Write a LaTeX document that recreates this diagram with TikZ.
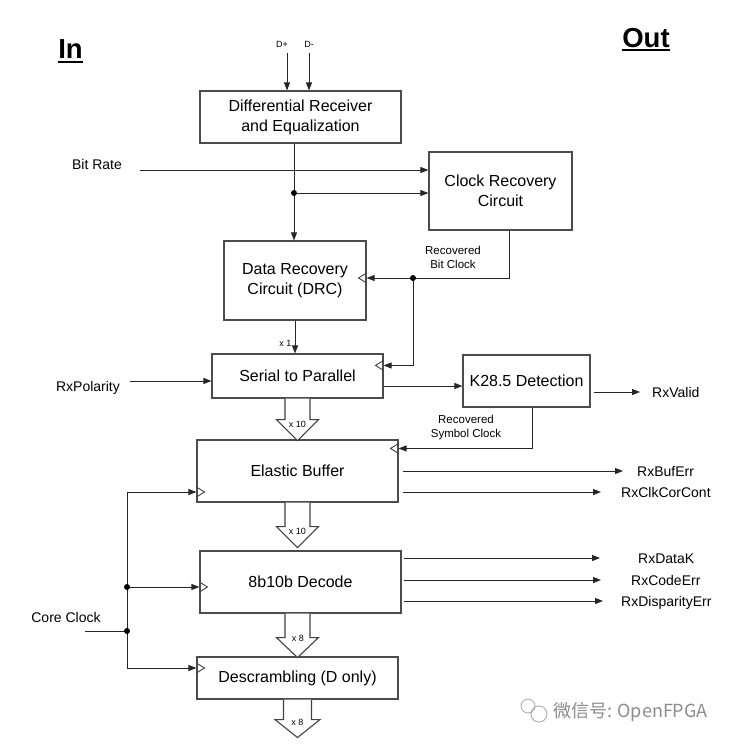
\documentclass[tikz,border=0pt]{standalone}
\usepackage{fontspec}
\setmainfont{Liberation Sans}
\newfontfamily\cjk{Noto Sans CJK SC}
\usetikzlibrary{arrows.meta}

\begin{document}
\begin{tikzpicture}[x=1pt, y=-1pt,
    box/.style={draw=black!70, line width=1.1pt, inner sep=0pt, align=center,
        font=\fontsize{16}{20}\selectfont},
    sig/.style={draw=black!85, line width=1pt, -{Triangle[length=8pt,width=6pt]}},
    wire/.style={draw=black!85, line width=1pt},
    bus/.style={draw=black!75, line width=1.1pt, fill=white},
    clk/.style={draw=black!75, line width=0.9pt},
    io/.style={inner sep=0pt, text height=11pt, text depth=1pt,
        font=\fontsize{14}{16}\selectfont},
    note/.style={inner sep=0pt, align=center, font=\fontsize{11.5}{14}\selectfont},
    tiny/.style={inner sep=0pt, font=\fontsize{9}{10}\selectfont},
    head/.style={inner sep=0pt, font=\fontsize{27.5}{30}\selectfont\bfseries},
    dot/.style={circle, fill=black, inner sep=0pt, minimum size=6pt},
    clkl/.pic={\draw[clk] (0,-5) -- (8,0) -- (0,5);},
    clkr/.pic={\draw[clk] (0,-5) -- (-8,0) -- (0,5);},
]
    \useasboundingbox (0,0) rectangle (730,745);

    % Headings
    \node[head, anchor=base] (in) at (70.5,58) {In};
    \node[head, anchor=base] (out) at (646,47) {Out};
    \draw[line width=2.5pt] ([yshift=-4pt]in.base west) -- ([yshift=-4pt]in.base east);
    \draw[line width=2.5pt] ([yshift=-3pt]out.base west) -- ([yshift=-3pt]out.base east);

    % Blocks
    \node[box, minimum width=201pt, minimum height=52pt] (rx) at (300.5,117) {Differential Receiver\\and Equalization};
    \node[box, minimum width=143pt, minimum height=78pt] (cdr) at (500.5,191) {Clock Recovery\\Circuit};
    \node[box, minimum width=142pt, minimum height=79pt] (drc) at (295,280.5) {Data Recovery\\Circuit (DRC)};
    \node[box, minimum width=171pt, minimum height=44pt] (s2p) at (297.5,376) {Serial to Parallel};
    \node[box, minimum width=127pt, minimum height=52pt] (k28) at (526.5,381) {K28.5 Detection};
    \node[box, minimum width=201pt, minimum height=62pt] (eb) at (297.5,471) {Elastic Buffer};
    \node[box, minimum width=201pt, minimum height=62pt] (dec) at (300.5,582) {8b10b Decode};
    \node[box, minimum width=201pt, minimum height=42pt] (dsc) at (297.5,678) {Descrambling (D only)};

    % Differential inputs
    \node[tiny] (dplus) at (282,44) {D+};
    \node[tiny] (dminus) at (309,44) {D-};
    \coordinate (dp) at (287,53);
    \coordinate (dm) at (309,53);
    \draw[sig] (dp) -- (dp |- rx.north);
    \draw[sig] (dm) -- (dm |- rx.north);

    % Bit rate
    \node[io] (bitrate) at (97,164) {Bit Rate};
    \coordinate (br) at (140,170);
    \draw[sig] (br) -- (br -| cdr.west);

    % Serial data down to DRC and CDR
    \coordinate (j1) at (294,193);
    \draw[sig] (rx.south -| j1) -- (drc.north -| j1);
    \draw[sig] (j1) -- (j1 -| cdr.west);
    \node[dot] (d1) at (j1) {};

    % Recovered bit clock
    \coordinate (bc) at (509,278);
    \coordinate (j2) at (413,278);
    \draw[sig] (cdr.south -| bc) -- (bc) -- (drc.east |- bc);
    \draw[sig] (j2) |- ([yshift=-12pt]s2p.north east);
    \node[dot] (d2) at (j2) {};
    \pic at (drc.east |- bc) {clkr};
    \pic at ([yshift=-12pt]s2p.north east) {clkr};
    \node[note] (bitclk) at (453,257) {Recovered\\Bit Clock};

    % DRC to serial to parallel
    \draw[sig] (drc.south) -- (drc.south |- s2p.north);
    \node[tiny] (x1) at (285.5,343) {x 1};

    % RxPolarity
    \node[io] (rxpol) at (88,386) {RxPolarity};
    \coordinate (rp) at (130,381);
    \draw[sig] (rp) -- (rp -| s2p.west);

    % K28.5 detection
    \draw[sig] ([yshift=-10pt]s2p.east) -- ([yshift=-10pt]s2p.east -| k28.west);
    \node[io, anchor=west] (rxvalid) at (652,392) {RxValid};
    \draw[sig] ([xshift=3pt]k28.east |- rxvalid.west) -- ([xshift=-12pt]rxvalid.west);

    % Recovered symbol clock
    \draw[sig] ([xshift=5.5pt]k28.south) |- ([yshift=-9pt]eb.north east);
    \pic at ([yshift=-9pt]eb.north east) {clkr};
    \node[note] (symclk) at (466,428) {Recovered\\Symbol Clock};

    % Parallel buses
    \draw[bus] ([xshift=-12.5pt]s2p.south) -- ++(0,21) -- ++(-8.5,0) -- ++(21,21) -- ++(21,-21) -- ++(-8.5,0) -- ++(0,-21);
    \node[tiny] (w1) at ([yshift=-26pt]s2p.south) {x 10};
    \draw[bus] ([xshift=-12.5pt]eb.south) -- ++(0,24) -- ++(-8.5,0) -- ++(21,21) -- ++(21,-21) -- ++(-8.5,0) -- ++(0,-24);
    \node[tiny] (w2) at ([yshift=-29pt]eb.south) {x 10};
    \draw[bus] ([xshift=-15.5pt]dec.south) -- ++(0,24) -- ++(-8.5,0) -- ++(21,20) -- ++(21,-20) -- ++(-8.5,0) -- ++(0,-24);
    \node[tiny] (w3) at ([xshift=-2.5pt,yshift=-25pt]dec.south) {x 8};
    \draw[bus] ([xshift=-14pt]dsc.south) -- ++(0,20) -- ++(-8.5,0) -- ++(22.5,18) -- ++(22.5,-18) -- ++(-8.5,0) -- ++(0,-20);
    \node[tiny] (w4) at ([yshift=-23pt]dsc.south) {x 8};

    % Elastic buffer outputs
    \node[io, anchor=west] (rxbuferr) at (637,471) {RxBufErr};
    \node[io, anchor=west] (rxclkcor) at (621,492) {RxClkCorCont};
    \draw[sig] ([xshift=4pt]eb.east |- rxbuferr.west) -- ([xshift=-14pt]rxbuferr.west);
    \draw[sig] ([xshift=4pt]eb.east |- rxclkcor.west) -- ([xshift=-20pt]rxclkcor.west);

    % Decoder outputs
    \node[io, anchor=west] (rxdatak) at (638,558) {RxDataK};
    \node[io, anchor=west] (rxcodeerr) at (631,580) {RxCodeErr};
    \node[io, anchor=west] (rxdisperr) at (621,601) {RxDisparityErr};
    \draw[sig] ([xshift=2pt]dec.east |- rxdatak.west) -- ([xshift=-38pt]rxdatak.west);
    \draw[sig] ([xshift=2pt]dec.east |- rxcodeerr.west) -- ([xshift=-30pt]rxcodeerr.west);
    \draw[sig] ([xshift=2pt]dec.east |- rxdisperr.west) -- ([xshift=-18pt]rxdisperr.west);

    % Core clock
    \node[io] (coreclk) at (66,617) {Core Clock};
    \coordinate (ccin) at (85,631);
    \coordinate (cc) at (127,631);
    \coordinate (ck1) at (127,492);
    \coordinate (ck2) at (127,587);
    \coordinate (ck3) at (127,668);
    \draw[wire] (ccin) -- (cc);
    \draw[sig] (cc) -- (ck1) -- (ck1 -| eb.west);
    \draw[sig] (ck2) -- (ck2 -| dec.west);
    \draw[sig] (cc) -- (ck3) -- (ck3 -| dsc.west);
    \node[dot] (d3) at (ck2) {};
    \node[dot] (d4) at (cc) {};
    \pic at (ck1 -| eb.west) {clkl};
    \pic at (ck2 -| dec.west) {clkl};
    \pic at (ck3 -| dsc.west) {clkl};

    % Watermark
    \draw[black!35, line width=0.8pt] (528,706) circle (7);
    \draw[black!35, line width=0.8pt] (539,714) circle (8);
    \node[inner sep=0pt, text=black!45, font=\cjk\fontsize{18}{20}\selectfont, anchor=west] (wm) at (553,712) {微信号: OpenFPGA};

\end{tikzpicture}
\end{document}
